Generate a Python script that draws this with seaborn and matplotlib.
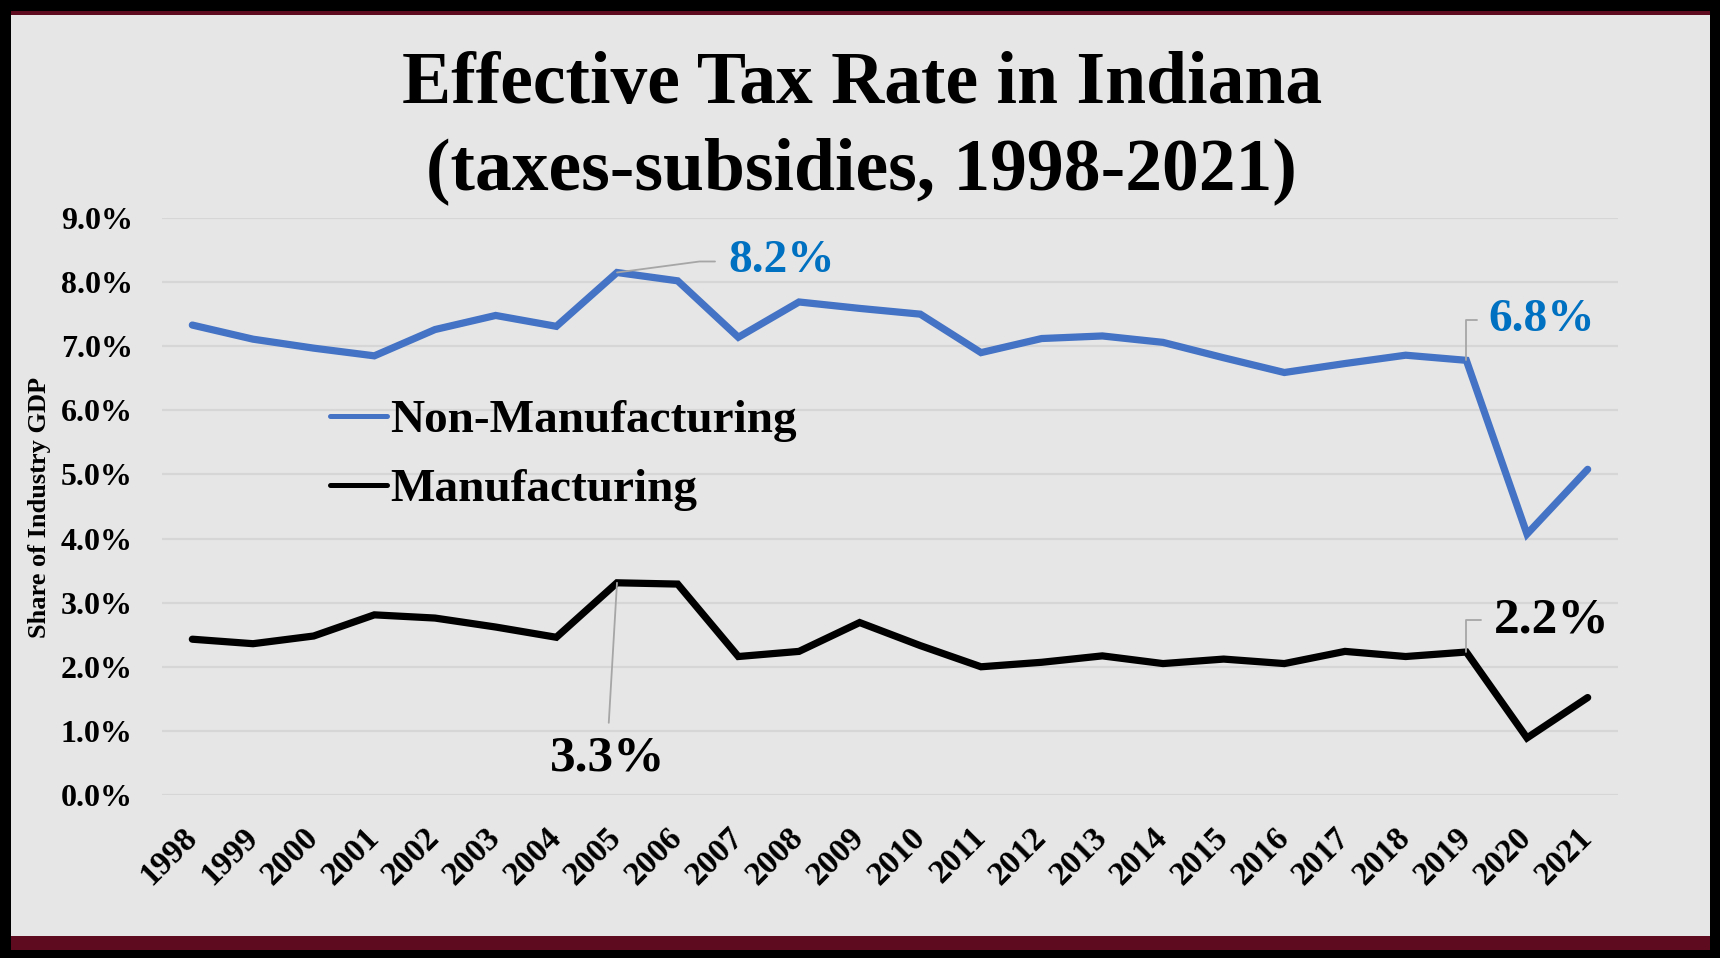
import matplotlib
matplotlib.use("Agg")
import matplotlib.pyplot as plt
import seaborn as sns
import pandas as pd
from matplotlib.patches import Rectangle
from matplotlib.lines import Line2D

# ---------------- data ----------------
years = list(range(1998, 2022))
non_mfg = [7.33, 7.11, 6.97, 6.85, 7.26, 7.48, 7.31, 8.15, 8.02, 7.14, 7.69, 7.59,
           7.50, 6.90, 7.12, 7.16, 7.06, 6.82, 6.59, 6.73, 6.86, 6.78, 4.07, 5.08]
mfg = [2.43, 2.36, 2.48, 2.81, 2.76, 2.62, 2.46, 3.31, 3.29, 2.16, 2.24, 2.69,
       2.33, 2.00, 2.07, 2.17, 2.05, 2.12, 2.05, 2.24, 2.16, 2.23, 0.89, 1.52]
series_names = ["Non-Manufacturing", "Manufacturing"]
y_ticks = [0, 1, 2, 3, 4, 5, 6, 7, 8, 9]
title_lines = ["Effective Tax Rate in Indiana", "(taxes-subsidies, 1998-2021)"]
y_label = "Share of Industry GDP"
callout_years = [2005, 2019, 2005, 2019]
callout_series = ["Non-Manufacturing", "Non-Manufacturing", "Manufacturing", "Manufacturing"]
callout_labels = ["8.2%", "6.8%", "3.3%", "2.2%"]

# ---------------- style ----------------
sns.set_style("white")
plt.rcParams["font.family"] = ["Liberation Serif", "DejaVu Serif"]
plt.rcParams["font.weight"] = "bold"
for k in ["text.color", "axes.labelcolor", "xtick.color", "ytick.color"]:
    plt.rcParams[k] = "black"

BLUE = "#4472C4"
LABEL_BLUE = "#0070C0"
PANEL = "#E6E6E6"
MAROON = "#5E0A1F"
GRID = "#D6D6D6"
LEADER = "#A6A6A6"

W, H = 1720, 958
fig = plt.figure(figsize=(W / 100, H / 100), dpi=100)
fig.patch.set_facecolor("black")

# panel & decorative bands (figure pixel coordinates -> fractions)
def fr(x0, y0, x1, y1):
    return (x0 / W, 1 - y1 / H), (x1 - x0) / W, (y1 - y0) / H

for (x0, y0, x1, y1, c) in [(11, 15, 1710, 936, PANEL), (11, 11, 1710, 15, MAROON),
                            (11, 936, 1710, 950, MAROON)]:
    xy, w, h = fr(x0, y0, x1, y1)
    fig.patches.append(Rectangle(xy, w, h, transform=fig.transFigure,
                                 facecolor=c, edgecolor="none", zorder=-10))

ax = fig.add_axes([162 / W, 1 - 795 / H, (1618 - 162) / W, (795 - 218) / H])
ax.set_facecolor("none")
ax.set_zorder(1)

df = pd.DataFrame({
    "Year": years * 2,
    "Value": non_mfg + mfg,
    "Series": [series_names[0]] * len(years) + [series_names[1]] * len(years),
})
sns.lineplot(data=df, x="Year", y="Value", hue="Series", hue_order=series_names,
             palette=[BLUE, "black"], linewidth=5.2, ax=ax, legend=False,
             solid_joinstyle="miter", solid_capstyle="round", zorder=3)

ax.set_xlim(years[0] - 0.5, years[-1] + 0.5)
ax.set_ylim(y_ticks[0], y_ticks[-1])
ax.set_yticks(y_ticks)
ax.set_yticklabels([f"{v:.1f}%" for v in y_ticks])
ax.set_xticks(years)
ax.set_xticklabels([str(y) for y in years], rotation=45, ha="right", va="center",
                   rotation_mode="anchor")
ax.tick_params(axis="both", length=0, colors="black")
ax.tick_params(axis="y", pad=21, labelsize=23)
ax.tick_params(axis="x", pad=27, labelsize=24)
for lab in ax.get_xticklabels() + ax.get_yticklabels():
    lab.set_fontweight("bold")
ax.set_xlabel("")
ax.set_ylabel("")
ax.grid(axis="y", color=GRID, linewidth=1.6, zorder=0)
ax.grid(axis="x", visible=False)
for s in ax.spines.values():
    s.set_visible(False)

# y label
fig.text(40 / W, 1 - 507 / H, y_label, rotation=90, ha="center", va="center",
         fontsize=19, fontweight="bold", color="black")

# title
fig.text(0.501, 1 - 103 / H, title_lines[0], ha="center", va="baseline",
         fontsize=53, fontweight="bold", color="black")
fig.text(0.501, 1 - 189 / H, title_lines[1], ha="center", va="baseline",
         fontsize=53, fontweight="bold", color="black")

# legend
handles = [Line2D([0], [0], color=BLUE, lw=3.6, solid_capstyle="round"),
           Line2D([0], [0], color="black", lw=3.6, solid_capstyle="round")]
leg = fig.legend(handles, series_names, loc="upper left",
                 bbox_to_anchor=(330 / W, 1 - 399 / H), bbox_transform=fig.transFigure,
                 frameon=False, prop={"size": 34, "weight": "bold"},
                 handlelength=1.2, handletextpad=0.08, labelspacing=0.55,
                 borderpad=0, borderaxespad=0)
for t in leg.get_texts():
    t.set_color("black")

# callouts
lookup = {series_names[0]: dict(zip(years, non_mfg)),
          series_names[1]: dict(zip(years, mfg))}
callout_style = [
    dict(off=(111, 11), ha="left", va="center", color=LABEL_BLUE, size=34,
         cs="angle,angleA=0,angleB=7.6,rad=0", relpos=(0, 0.5), shrinkA=7),
    dict(off=(22, 40), ha="left", va="center", color=LABEL_BLUE, size=34,
         cs="angle,angleA=0,angleB=90,rad=0", relpos=(0, 0.5), shrinkA=6),
    dict(off=(-9, -153), ha="center", va="top", color="black", size=37,
         cs="arc3,rad=0", relpos=(0.5, 1), shrinkA=7),
    dict(off=(28, 32), ha="left", va="center", color="black", size=37,
         cs="angle,angleA=0,angleB=90,rad=0", relpos=(0, 0.5), shrinkA=7),
]
for yr, ser, lab, st in zip(callout_years, callout_series, callout_labels, callout_style):
    ax.annotate(lab, xy=(yr, lookup[ser][yr]), xytext=st["off"],
                textcoords="offset pixels", ha=st["ha"], va=st["va"],
                color=st["color"], fontsize=st["size"], fontweight="bold",
                arrowprops=dict(arrowstyle="-", color=LEADER, lw=1.3,
                                connectionstyle=st["cs"], relpos=st["relpos"],
                                shrinkA=st["shrinkA"], shrinkB=0),
                zorder=5, annotation_clip=False)

fig.savefig("out.png", dpi=100, facecolor=fig.get_facecolor())
